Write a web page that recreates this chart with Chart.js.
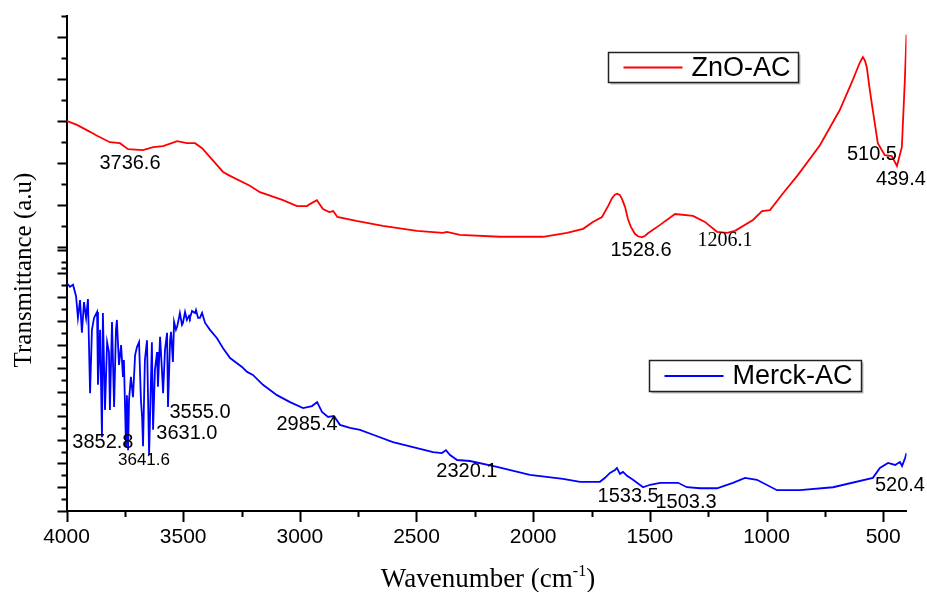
<!DOCTYPE html>
<html>
<head>
<meta charset="utf-8">
<script src="https://cdn.jsdelivr.net/npm/chart.js@4.4.0/dist/chart.umd.min.js"></script>
<style>
  html, body { margin: 0; background: #fff; }
  #wrap { width: 927px; height: 592px; position: relative; }
</style>
</head>
<body>
<div id="wrap"><canvas id="c"></canvas></div>
<script>
// ZnO-AC spectrum (wavenumber, transmittance a.u.)
const znoX = [4000, 3955, 3899, 3869, 3814, 3771, 3736, 3672, 3629, 3586, 3526, 3484, 3449, 3419,
  3329, 3299, 3214, 3171, 3072, 3012, 2969, 2957, 2927, 2901, 2874, 2857, 2839, 2758, 2644, 2498,
  2387, 2370, 2314, 2143, 1958, 1855, 1786, 1744, 1705, 1679, 1662, 1650, 1640, 1628, 1619, 1606,
  1594, 1581, 1564, 1551, 1534, 1520, 1508,
  1456, 1392, 1315, 1264, 1212, 1169, 1135, 1058, 1019, 985, 929, 865, 771, 686, 630, 600, 587, 578,
  570, 560, 549, 523, 493, 463, 441, 420, 407, 400];
const znoY = [78.8, 78.0, 76.6, 75.8, 74.5, 74.3, 73.1, 72.9, 73.5, 73.7, 74.7, 74.3, 74.3, 73.3,
  68.5, 67.7, 65.7, 64.4, 62.8, 61.6, 61.6, 62.0, 62.8, 61.0, 60.4, 60.6, 59.4, 58.6, 57.6, 56.6,
  56.2, 56.4, 55.8, 55.4, 55.4, 56.2, 57.0, 58.4, 59.4, 61.6, 63.2, 63.9, 64.1, 63.8, 63.0, 61.4,
  59.0, 57.4, 56.0, 55.5, 55.3, 55.6, 56.1,
  57.8, 60.0, 59.6, 58.4, 56.4, 56.2, 56.6, 58.8, 60.6, 60.8, 64.2, 67.9, 73.9, 81.0, 87.1, 90.6, 91.7, 91.0,
  89.6, 86.0, 82.4, 74.3, 71.9, 71.7, 69.7, 73.5, 87.1, 96.2];

// Merck-AC spectrum
const merckX = [4000, 3985, 3972, 3959, 3951, 3942, 3934, 3925, 3916, 3908, 3899, 3891, 3882, 3869,
  3865, 3856, 3848, 3844, 3835, 3826, 3818, 3814, 3805, 3796, 3788, 3784, 3775, 3766, 3758, 3754,
  3745, 3741, 3736, 3732, 3724, 3715, 3706, 3698, 3689, 3681, 3676, 3672, 3664, 3655, 3646, 3638,
  3634, 3629, 3621, 3612, 3608, 3599, 3591, 3586, 3578, 3569, 3565, 3556, 3552, 3544, 3539, 3531,
  3526, 3518, 3514, 3505, 3501, 3492, 3484, 3475, 3471, 3462, 3449, 3445, 3436, 3428, 3419, 3406,
  3385, 3355, 3329, 3299, 3248, 3226, 3201, 3158, 3098, 3042, 2986, 2948, 2926, 2905, 2879, 2854,
  2828, 2785, 2742, 2686, 2601, 2515, 2429, 2391, 2374, 2356, 2326, 2271, 2155, 2014, 1872, 1799,
  1714, 1692, 1671, 1649, 1641, 1628, 1615, 1598, 1572, 1555, 1529, 1499, 1456, 1379, 1341, 1285,
  1212, 1144, 1092, 1041, 955, 857, 715, 544, 514, 479, 449, 428, 419, 406, 400];
const merckY = [46.1, 45.3, 45.7, 43.4, 39.0, 42.6, 36.0, 42.2, 39.0, 42.8, 23.8, 36.6, 39.0, 40.2,
  25.5, 36.6, 14.9, 40.0, 20.4, 34.1, 32.1, 20.4, 38.2, 21.0, 36.6, 38.6, 29.5, 33.5, 27.1, 30.5,
  12.9, 23.4, 12.3, 22.4, 27.1, 23.0, 31.5, 33.1, 34.1, 22.4, 19.0, 13.1, 30.5, 34.5, 11.3, 26.5,
  34.1, 16.4, 28.5, 32.1, 25.1, 35.2, 28.5, 23.8, 32.5, 36.0, 21.0, 34.5, 36.2, 30.1, 38.2, 36.6,
  37.2, 39.0, 40.0, 37.6, 38.0, 40.2, 38.6, 39.4, 39.0, 40.4, 40.0, 40.6, 39.0, 39.0, 40.0, 38.0,
  36.6, 34.9, 32.9, 30.9, 29.1, 28.1, 27.5, 25.5, 23.4, 22.0, 20.8, 21.2, 22.0, 20.0, 19.0, 19.2,
  17.4, 16.8, 16.4, 15.4, 13.9, 12.9, 11.9, 11.7, 12.3, 11.3, 10.3, 10.1, 8.9, 7.3, 6.5, 5.9,
  5.9, 6.7, 7.7, 8.3, 8.7, 7.5, 7.9, 7.1, 6.3, 5.7, 4.8, 5.3, 5.7, 5.7, 4.8, 4.6,
  4.6, 5.7, 6.7, 6.3, 4.2, 4.2, 4.8, 6.7, 8.7, 9.7, 9.3, 9.9, 9.1, 10.7, 11.7];

// axis ticks
const xTicks = [4000, 3750, 3500, 3250, 3000, 2750, 2500, 2250, 2000, 1750, 1500, 1250, 1000, 750, 500];
const yTicksUpper = [100, 95.75, 91.5, 87.25, 83, 78.75, 74.5, 70.25, 66, 61.75, 57.5, 53.25, 49];
const yTicksLower = [0, 2.4, 4.8, 7.2, 9.6, 12, 14.4, 16.8, 19.2, 21.6, 24, 26.4, 28.8, 31.2, 33.6,
  36, 38.4, 40.8, 43.2, 45.6, 48, 50.4, 52.8];

// peak annotations
const peakText = ['3736.6', '1528.6', '1206.1', '510.5', '439.4', '3852.8', '3641.6', '3631.0',
  '3555.0', '2985.4', '2320.1', '1533.5', '1503.3', '520.4'];
const peakX = [3728, 1538, 1178, 548, 424, 3844, 3668, 3484, 3428, 2969, 2284, 1593, 1345, 428];
const peakY = [70.3, 52.7, 54.5, 72.1, 66.9, 13.9, 10.3, 15.6, 20.0, 17.4, 7.9, 3.0, 1.8, 5.1];

const SANS = '"Liberation Sans", Arial, sans-serif';
const SERIF = '"Liberation Serif", "Times New Roman", serif';

const decor = {
  id: 'decor',
  afterDraw(chart) {
    const { ctx, chartArea: a } = chart;
    const xs = chart.scales.x, ys = chart.scales.y;
    ctx.save();
    ctx.strokeStyle = '#000';
    ctx.lineWidth = 2;
    ctx.beginPath();
    yTicksUpper.forEach((v, i) => {
      const p = Math.round(ys.getPixelForValue(v)) + 0.5;
      const len = i % 2 ? 9 : 5;
      ctx.moveTo(a.left - len, p); ctx.lineTo(a.left, p);
    });
    yTicksLower.forEach((v, i) => {
      const p = Math.round(ys.getPixelForValue(v)) + 0.5;
      const len = i % 2 ? 5 : 9;
      ctx.moveTo(a.left - len, p); ctx.lineTo(a.left, p);
    });
    xTicks.forEach(v => {
      const p = Math.round(xs.getPixelForValue(v)) + 0.5;
      const len = v % 500 === 0 ? 11 : 6;
      ctx.moveTo(p, a.bottom); ctx.lineTo(p, a.bottom + len);
    });
    ctx.stroke();

    // peak labels
    ctx.fillStyle = '#000';
    ctx.textAlign = 'center';
    ctx.textBaseline = 'middle';
    peakText.forEach((t, i) => {
      if (t === '1206.1') ctx.font = '20px ' + SERIF;
      else if (t === '3641.6') ctx.font = '17px ' + SANS;
      else ctx.font = '20px ' + SANS;
      ctx.fillText(t, xs.getPixelForValue(peakX[i]), ys.getPixelForValue(peakY[i]));
    });

    // axis titles
    ctx.textAlign = 'left';
    ctx.textBaseline = 'alphabetic';
    const big = '27px ' + SERIF, small = '16px ' + SERIF;
    const t1 = 'Wavenumber (cm', sup = '-1', t2 = ')';
    ctx.font = big;
    const w1 = ctx.measureText(t1).width, w2 = ctx.measureText(t2).width;
    ctx.font = small;
    const ws = ctx.measureText(sup).width;
    const x0 = 488 - (w1 + ws + w2) / 2;
    const base = 587;
    ctx.font = big;
    ctx.fillText(t1, x0, base);
    ctx.font = small;
    ctx.fillText(sup, x0 + w1, base - 11);
    ctx.font = big;
    ctx.fillText(t2, x0 + w1 + ws, base);

    ctx.save();
    ctx.translate(24, 270);
    ctx.rotate(-Math.PI / 2);
    ctx.textAlign = 'center';
    ctx.textBaseline = 'middle';
    ctx.font = '25px ' + SERIF;
    ctx.fillText('Transmittance (a.u)', 0, 0);
    ctx.restore();

    // legend boxes
    const legend = (x, y, w, h, color, label) => {
      ctx.fillStyle = '#bbb';
      ctx.fillRect(x + 2, y + 2, w, h);
      ctx.fillStyle = '#fff';
      ctx.fillRect(x, y, w, h);
      ctx.strokeStyle = '#222';
      ctx.lineWidth = 1.5;
      ctx.strokeRect(x, y, w, h);
      ctx.strokeStyle = color;
      ctx.lineWidth = 1.8;
      ctx.beginPath();
      ctx.moveTo(x + 15, y + h / 2); ctx.lineTo(x + 74, y + h / 2);
      ctx.stroke();
      ctx.fillStyle = '#000';
      ctx.font = '27px ' + SANS;
      ctx.textAlign = 'left';
      ctx.textBaseline = 'middle';
      ctx.fillText(label, x + 83, y + h / 2 + 1);
    };
    legend(608.5, 52.5, 190, 30, '#ff0000', 'ZnO-AC');
    legend(649.5, 360.5, 212, 31, '#0000ff', 'Merck-AC');
    ctx.restore();
  }
};

new Chart(document.getElementById('c'), {
  type: 'line',
  data: {
    datasets: [
      { label: 'ZnO-AC', data: znoX.map((x, i) => ({ x, y: znoY[i] })), borderColor: '#ff0000', borderWidth: 1.8 },
      { label: 'Merck-AC', data: merckX.map((x, i) => ({ x, y: merckY[i] })), borderColor: '#0000ff', borderWidth: 1.8 }
    ]
  },
  options: {
    responsive: true,
    maintainAspectRatio: false,
    animation: false,
    events: [],
    layout: { padding: { top: 16, right: 20.5, left: 0, bottom: 0 } },
    elements: { point: { radius: 0 }, line: { tension: 0 } },
    plugins: { legend: { display: false }, tooltip: { enabled: false } },
    scales: {
      x: {
        type: 'linear',
        reverse: true,
        min: 400,
        max: 4000,
        afterBuildTicks: s => { s.ticks = xTicks.map(v => ({ value: v })); },
        afterFit: s => { s.height = 81; },
        grid: { display: false, drawTicks: false },
        border: { display: true, color: '#000', width: 2 },
        ticks: {
          autoSkip: false,
          maxRotation: 0,
          padding: 14,
          color: '#000',
          font: { family: SANS, size: 21 },
          callback: v => (v % 500 === 0 ? String(v) : '')
        }
      },
      y: {
        type: 'linear',
        min: 0,
        max: 100,
        afterFit: s => { s.width = 66.5; },
        grid: { display: false, drawTicks: false },
        border: { display: true, color: '#000', width: 2 },
        ticks: { display: false }
      }
    }
  },
  plugins: [decor]
});
</script>
</body>
</html>
